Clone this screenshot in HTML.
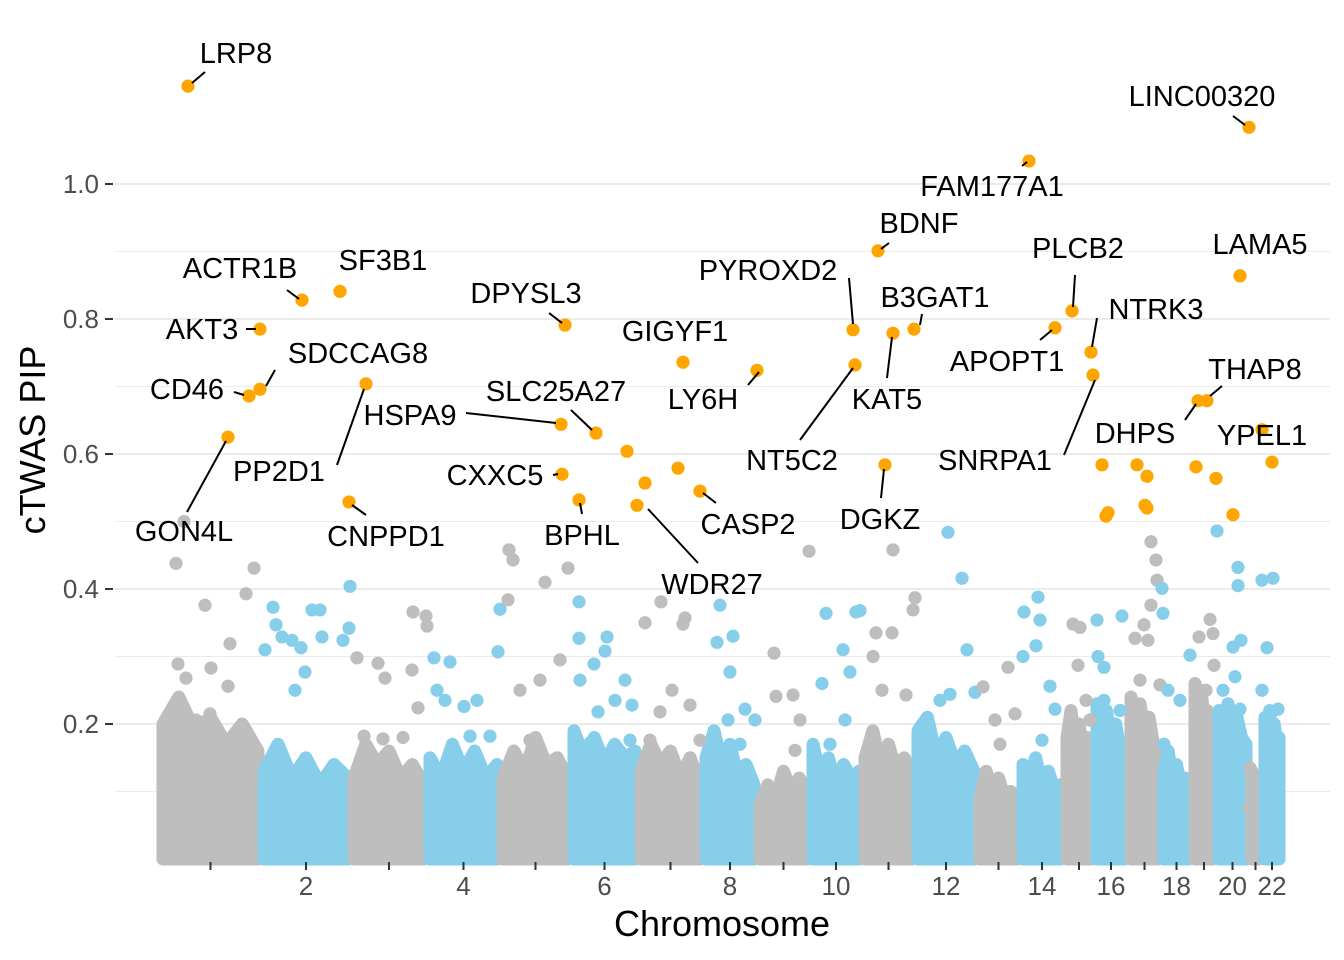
<!DOCTYPE html>
<html><head><meta charset="utf-8">
<style>
html,body{margin:0;padding:0;background:#fff;}
svg{display:block;font-family:"Liberation Sans",Arial,sans-serif;}
</style></head>
<body>
<svg id="chart" width="1344" height="960" viewBox="0 0 1344 960" xmlns="http://www.w3.org/2000/svg">
<g id="grid"></g>
<g id="mass"></g>
<g id="bg"></g>
<g id="hits"></g>
<g id="labels"></g>
<g id="yaxis"></g>
<g id="xaxis"></g>
<text x="722" y="936" font-size="36" text-anchor="middle" fill="#000">Chromosome</text>
<text transform="translate(45,440) rotate(-90)" font-size="36" text-anchor="middle" fill="#000">cTWAS PIP</text>
</svg>
<script>
const chrLen=[101,90,76,73,71,67,65,54,53,52,53,62,43,44,30,34,33,31,24,33,13,20];
const yTicks=[0.2,0.4,0.6,0.8,1.0];
const yTickLabels=["0.2","0.4","0.6","0.8","1.0"];
const xTickLabels=["","2","","4","","6","","8","","10","","12","","14","","16","","18","","20","","22"];
const massProfile=[[.2,.24,.19,.21,.17,.2,.16],[.13,.17,.12,.15,.11,.14,.12],[.12,.17,.14,.16,.12,.14,.11],[.15,.12,.17,.13,.16,.12,.14],[.12,.16,.13,.18,.14,.15,.12],[.19,.15,.18,.14,.17,.15,.16],[.13,.17,.14,.16,.12,.15,.11],[.15,.19,.14,.17,.12,.14,.11],[.08,.11,.09,.13,.1,.12,.1],[.17,.12,.15,.11,.14,.12,.13],[.15,.19,.14,.17,.13,.15,.13],[.19,.21,.15,.18,.14,.16,.13],[.09,.13,.1,.12,.09,.1,.07],[.14,.12,.15,.11,.13,.1,.11],[.18,.22,.17,.2,.16,.18,.14],[.23,.2,.22,.18,.2,.16,.15],[.24,.21,.23,.19,.21,.17,.16],[.13,.16,.12,.14,.11,.12,.1],[.26,.23,.25,.21,.22,.18,.16],[.22,.2,.23,.19,.21,.18,.17],[.13,.1,.08,.06,.05,.04,.03],[.21,.19,.22,.18,.2,.17,.18]];
const bgChr=[1,1,1,1,1,1,1,1,1,1,1,1, 2,2,2,2,2,2,2,2,2,2,2,2,2,2, 3,3,3,3,3,3,3,3,3,3,3, 4,4,4,4,4,4,4,4,4,4, 5,5,5,5,5,5,5,5,5, 6,6,6,6,6,6,6,6,6,6,6,6, 7,7,7,7,7,7,7,7,7, 8,8,8,8,8,8,8,8, 9,9,9,9,9,9, 10,10,10,10,10,10,10,10, 11,11,11,11,11,11,11,11, 12,12,12,12,12,12, 13,13,13,13,13, 14,14,14,14,14,14,14,14, 15,15,15,15,15, 16,16,16,16,16,16, 17,17,17,17,17,17,17,17,17,17, 18,18,18,18,18,18, 19,19,19,19,19,19, 20,20,20,20,20,20,20,20, 21,21, 22,22,22,22,22,22];
const bgPos=[16,18,26,45,51,68,70,86,94,24,36,50, 12,15,21,31,40,51,59,61,44,4,89,88,82,34, 6,27,34,62,61,67,32,52,13,75,76, 7,23,10,18,37,50,71,63,43,73, 9,13,8,45,68,60,40,20,30, 8,8,36,34,23,9,27,54,44,61,19,59, 7,23,45,47,34,22,52,12,62, 17,14,30,27,42,25,37,52, 17,36,52,19,43,38, 16,46,50,33,40,12,35,20, 31,30,14,11,20,44,53,51, 33,47,52,35,25,60, 6,31,18,38,23, 4,18,20,16,3,30,35,22, 9,16,14,22,26, 3,4,10,28,10,26, 23,28,29,23,16,20,7,12,32,4, 1,2,7,19,3,29, 7,18,21,22,14,8, 1,22,22,25,17,19,7,24, 1,0, 0,11,5,0,8,16];
const bgPip=[.438,.289,.268,.376,.283,.256,.319,.393,.431,.5,.206,.215, .373,.347,.329,.324,.313,.369,.369,.329,.277,.31,.404,.342,.324,.25, .298,.29,.268,.366,.28,.224,.178,.18,.182,.36,.345, .298,.292,.25,.235,.226,.235,.307,.182,.182,.37, .458,.443,.384,.41,.431,.295,.265,.25,.176, .381,.327,.329,.308,.289,.265,.218,.265,.235,.228,.172,.176, .35,.381,.348,.357,.25,.218,.228,.176,.176, .376,.321,.33,.277,.222,.206,.17,.206, .305,.243,.456,.241,.206,.161, .364,.366,.368,.31,.277,.26,.206,.17, .458,.335,.335,.3,.25,.243,.387,.369, .484,.416,.31,.244,.235,.247, .255,.284,.206,.215,.17, .366,.388,.354,.316,.3,.256,.222,.176, .348,.343,.287,.235,.206, .354,.3,.284,.36,.235,.22, .47,.443,.413,.376,.347,.324,.327,.265,.258,.235, .401,.364,.25,.235,.17,.302, .329,.355,.334,.287,.25,.235, .486,.432,.405,.324,.314,.27,.25,.222, .135,.075, .413,.416,.313,.25,.206,.222];
const hitGene=["LRP8","AKT3","ACTR1B","SF3B1","CD46","SDCCAG8","GON4L","PP2D1","CNPPD1","DPYSL3","HSPA9","SLC25A27","CXXC5","BPHL","","","WDR27","","CASP2","GIGYF1","LY6H","PYROXD2","NT5C2","BDNF","B3GAT1","KAT5","DGKZ","FAM177A1","APOPT1","PLCB2","NTRK3","SNRPA1","LINC00320","LAMA5","THAP8","DHPS","YPEL1","","","","","","","","","","",""];
const hitChr=[1,1,2,2,1,1,1,3,2,5,5,6,5,6,6,7,6,7,7,7,8,10,10,11,11,11,11,14,14,15,15,15,21,20,19,19,22,22,16,16,16,17,17,17,17,19,20,20];
const hitPos=[28,100,41,79,89,100,68,15,88,65,61,25,62,8,56,7,66,40,62,45,54,43,45,16,52,31,23,9,35,8,27,29,0,24,15,6,0,10,8,12,14,9,19,17,19,4,0,17];
const hitPip=[1.145,.785,.828,.841,.686,.696,.625,.704,.529,.791,.644,.631,.570,.532,.604,.557,.524,.579,.545,.736,.724,.784,.732,.901,.785,.779,.584,1.034,.787,.812,.751,.717,1.084,.864,.679,.679,.636,.588,.584,.508,.513,.584,.567,.524,.520,.581,.564,.510];
const labelLayout={
LRP8:[236,53,205,72,192,83],LINC00320:[1202,96,1233,116,1245,125],FAM177A1:[992,186,1022,166,1027,162],
BDNF:[919,223,889,243,881,249],PLCB2:[1078,248,1075,275,1073,307],LAMA5:[1260,244],
ACTR1B:[240,268,287,290,299,299],SF3B1:[383,260],PYROXD2:[768,270,849,278,853,324],
DPYSL3:[526,293,549,313,562,323],B3GAT1:[935,297,922,314,920,325],NTRK3:[1156,309,1097,318,1092,347],
AKT3:[202,329,246,329,256,329],GIGYF1:[675,331],SDCCAG8:[358,353,275,370,266,386],
APOPT1:[1007,361,1040,340,1052,330],THAP8:[1255,369,1222,386,1210,396],CD46:[187,389,234,392,244,395],
SLC25A27:[556,391,571,410,592,430],LY6H:[703,399,748,385,759,372],KAT5:[887,399,887,378,892,337],
HSPA9:[410,415,466,413,556,423],DHPS:[1135,433,1185,420,1196,404],YPEL1:[1262,435],
SNRPA1:[995,460,1064,455,1095,380],NT5C2:[792,460,800,440,853,368],PP2D1:[279,471,337,465,364,389],
CXXC5:[495,475,553,475,558,474],DGKZ:[880,519,881,498,884,469],CASP2:[748,524,716,503,703,493],
GON4L:[184,531,187,512,226,441],CNPPD1:[386,536,366,515,352,505],BPHL:[582,535,582,514,580,503],
WDR27:[712,584,698,563,648,509]};

const NS="http://www.w3.org/2000/svg";
const X0=160,Y0=859,YS=675,R=6.6;
const chrStart=[];let acc=0;for(const l of chrLen){chrStart.push(acc);acc+=l;}
function xScale(chr,pos){return X0+chrStart[chr-1]+pos;}
function yScale(v){return Y0-v*YS;}
function mk(tag,attrs,parent){const e=document.createElementNS(NS,tag);for(const k in attrs)e.setAttribute(k,attrs[k]);parent.appendChild(e);return e;}
const colOf=c=>c%2?"#bebebe":"#87ceeb";

const grid=document.getElementById('grid');
for(let k=1;k<=10;k++){
  const v=k/10;
  const major=k%2===0;
  const l=mk('line',{x1:115,x2:1330,y1:yScale(v),y2:yScale(v),stroke:"#ebebeb","stroke-width":major?2:1.1},grid);
  
  
}
const ya=document.getElementById('yaxis');
yTicks.forEach((v,i)=>{
  const t=mk('text',{x:99,y:yScale(v)+9,"font-size":26,"text-anchor":"end",fill:"#4d4d4d"},ya);
  t.textContent=yTickLabels[i];
  
  
  const tk=mk('line',{x1:105,x2:113,y1:yScale(v),y2:yScale(v),stroke:"#333","stroke-width":2},ya);
  
  
});
const xa=document.getElementById('xaxis');
chrLen.forEach((l,i)=>{
  const cx=xScale(i+1,l/2);
  const tk=mk('line',{x1:cx,x2:cx,y1:862,y2:870,stroke:"#333","stroke-width":2},xa);
  
  
  if(xTickLabels[i]){
    const t=mk('text',{x:cx,y:895,"font-size":26,"text-anchor":"middle",fill:"#4d4d4d"},xa);
    t.textContent=xTickLabels[i];
    
    
  }
});
const mass=document.getElementById('mass');
massProfile.forEach((prof,i)=>{
  const c=i+1,l=chrLen[i];
  let pts=[[xScale(c,3),Y0]];
  prof.forEach((v,k)=>{pts.push([xScale(c,3+(l-6)*k/(prof.length-1)),yScale(v)]);});
  pts.push([xScale(c,l-3),Y0]);
  const p=mk('polygon',{points:pts.map(p=>p.join(',')).join(' '),fill:colOf(c),stroke:colOf(c),"stroke-width":13,"stroke-linejoin":"round"},mass);
  
  
});
const bg=document.getElementById('bg');
bgChr.forEach((c,i)=>{
  const d=mk('circle',{cx:xScale(c,bgPos[i]),cy:yScale(bgPip[i]),r:R,fill:colOf(c)},bg);
  
  
});
const hits=document.getElementById('hits');
const labels=document.getElementById('labels');
hitChr.forEach((c,i)=>{
  const d=mk('circle',{cx:xScale(c,hitPos[i]),cy:yScale(hitPip[i]),r:R,fill:"#ffa500"},hits);
  
  
  const g=hitGene[i];
  if(g&&labelLayout[g]){
    const L=labelLayout[g];
    if(L.length>2){
      const ln=mk('line',{x1:L[2],y1:L[3],x2:L[4],y2:L[5],stroke:"#000","stroke-width":2},labels);
      
      
    }
    const t=mk('text',{x:L[0],y:L[1]+10,"font-size":29,"text-anchor":"middle",fill:"#000"},labels);
    t.textContent=g;
    
    
  }
});
</script>
</body></html>
